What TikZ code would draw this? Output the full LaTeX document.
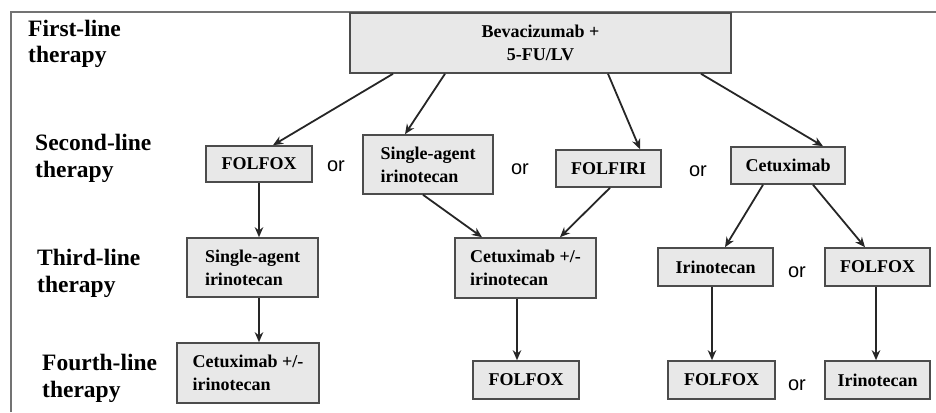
\documentclass[tikz,border=0pt]{standalone}
\usepackage{fontspec}
\setmainfont{Liberation Serif}
\newfontfamily\orfont{Liberation Sans}
\usepackage{tikz}
\usetikzlibrary{arrows.meta}

\begin{document}
\begin{tikzpicture}
            [x=1pt,y=-1pt,
            arr/.style={-{Stealth[length=10pt,width=8.5pt]},line width=1.8pt,draw=black!85},
            box/.style={draw=black!70,fill=black!9,line width=1.6pt,align=left,
                font=\fontsize{18}{23}\selectfont\bfseries,inner sep=0pt},
            lbl/.style={anchor=base west,align=left,inner sep=0pt,
                font=\fontsize{23.5}{26.5}\selectfont\bfseries},
            or/.style={font=\orfont\fontsize{20}{24}\selectfont,inner sep=0pt}]
            \useasboundingbox (0,0) rectangle (936,412);
            % frame
            \draw[black!55,line width=2.5pt] (11,412) -- (11,12) -- (936,12);
            % row labels (base = last line)
            \node[lbl] (l1) at (28,63) {First-line\\therapy};
            \node[lbl] (l2) at (35,177) {Second-line\\therapy};
            \node[lbl] (l3) at (37,292) {Third-line\\therapy};
            \node[lbl] (l4) at (42,397) {Fourth-line\\therapy};
            % first line
            \node[box,align=center,minimum width=381,minimum height=60] (bev) at (540.5,43)
                {Bevacizumab +\\5-FU/LV};
            % second line
            \node[box,minimum width=106,minimum height=36] (fox2) at (259,164) {FOLFOX};
            \node[box,minimum width=130,minimum height=59] (sai2) at (428,164.5) {Single-agent\\irinotecan};
            \node[box,minimum width=105,minimum height=37] (firi2) at (608.5,168.5) {FOLFIRI};
            \node[box,minimum width=114,minimum height=37] (cet2) at (788,165.5) {Cetuximab};
            \node[or] (or1) at (336,166) {or};
            \node[or] (or2) at (520,169) {or};
            \node[or] (or3) at (698,171) {or};
            % third line
            \node[box,minimum width=131,minimum height=59] (sai3) at (252.5,267.5) {Single-agent\\irinotecan};
            \node[box,minimum width=141,minimum height=60] (cet3) at (525.5,268) {Cetuximab +/-\\irinotecan};
            \node[box,minimum width=115,minimum height=38] (iri3) at (715.5,267) {Irinotecan};
            \node[box,minimum width=105,minimum height=38] (fox3) at (877.5,267) {FOLFOX};
            \node[or] (or4) at (797,272) {or};
            % fourth line
            \node[box,minimum width=142,minimum height=60] (cet4) at (248,373) {Cetuximab +/-\\irinotecan};
            \node[box,minimum width=106,minimum height=38] (fox4a) at (526,380) {FOLFOX};
            \node[box,minimum width=107,minimum height=38] (fox4b) at (721.5,380) {FOLFOX};
            \node[box,minimum width=105,minimum height=38] (iri4) at (877.5,380) {Irinotecan};
            \node[or] (or5) at (797,385) {or};
            % arrows
            \draw[arr] ([xshift=-147.5]bev.south) -- ([xshift=14]fox2.north);
            \draw[arr] ([xshift=-95.5]bev.south) -- ([xshift=-23]sai2.north);
            \draw[arr] ([xshift=67.5]bev.south) -- ([xshift=31.5]firi2.north);
            \draw[arr] ([xshift=160.5]bev.south) -- ([xshift=35]cet2.north);
            \draw[arr] (fox2.south) -- (fox2.south |- sai3.north);
            \draw[arr] (fox2.south |- sai3.south) -- (fox2.south |- cet4.north);
            \draw[arr] ([xshift=-5]sai2.south) -- ([xshift=-43.5]cet3.north);
            \draw[arr] ([xshift=1.5]firi2.south) -- ([xshift=34.5]cet3.north);
            \draw[arr] ([xshift=-8.5]cet3.south) -- ([xshift=-8.5]cet3.south |- fox4a.north);
            \draw[arr] ([xshift=-25]cet2.south) -- ([xshift=9.5]iri3.north);
            \draw[arr] ([xshift=25]cet2.south) -- ([xshift=-12.5]fox3.north);
            \draw[arr] ([xshift=-3.5]iri3.south) -- ([xshift=-3.5]iri3.south |- fox4b.north);
            \draw[arr] ([xshift=-1.5]fox3.south) -- ([xshift=-1.5]fox3.south |- iri4.north);
\end{tikzpicture}
\end{document}
